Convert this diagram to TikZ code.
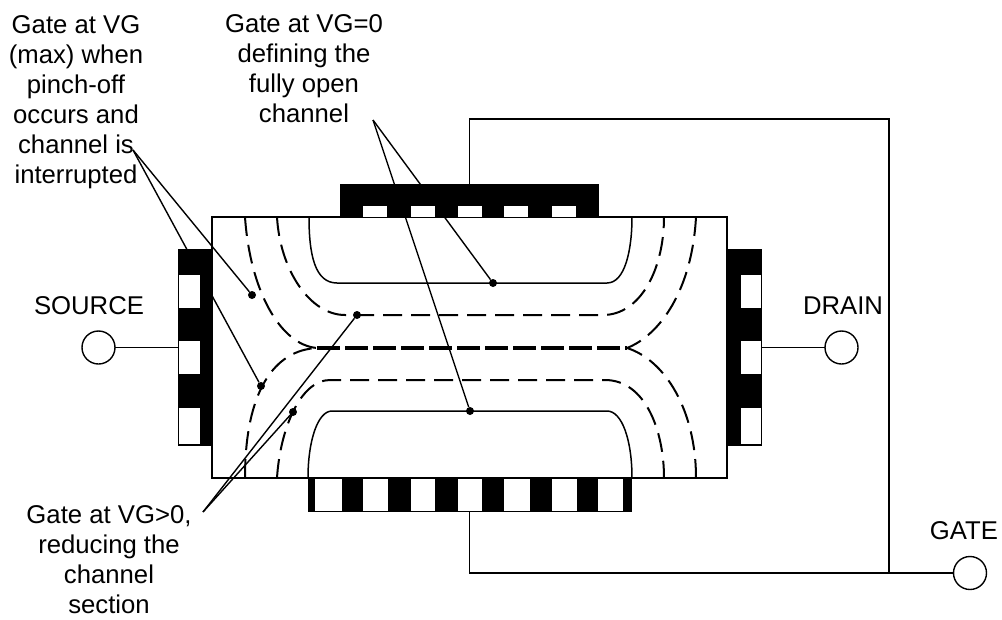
\documentclass[tikz,border=0pt]{standalone}
\usepackage{fontspec}
\setmainfont{Liberation Sans}
\usetikzlibrary{positioning}

\begin{document}
\begin{tikzpicture}[
      x=1pt, y=-1pt,
      box/.style={draw, line width=1.5pt, rectangle, inner sep=0pt, outer sep=0pt},
      pad/.style={draw, line width=1pt, rectangle, fill=black, inner sep=0pt, outer sep=0pt,
                  minimum width=34pt, minimum height=196pt},
      term/.style={draw, line width=1.4pt, circle, inner sep=0pt, outer sep=0pt, minimum size=33pt},
      dot/.style={circle, fill=black, inner sep=0pt, minimum size=8pt},
      wire/.style={line width=1.2pt},
      leader/.style={line width=1.4pt},
      edge/.style={line width=1.5pt},
      flux/.style={line width=2pt, dash pattern=on 19pt off 9pt},
      core/.style={line width=3.2pt, dash pattern=on 23pt off 5pt},
      lbl/.style={align=center, inner sep=0pt, font=\fontsize{25.7}{30}\selectfont}
    ]
      \useasboundingbox (0,0) rectangle (1002,619);
      \node[box, minimum width=515pt, minimum height=261pt] (body) at (469.5,347.5) {};

      \draw[edge] (309,217) .. controls (309,255) and (315,283) .. (337,283) -- (607,283)
                  .. controls (625,283) and (632,250) .. (632,217);
      \draw[edge] (308,478) .. controls (308,440) and (318,411) .. (332,411) -- (607,411)
                  .. controls (622,411) and (632,440) .. (632,478);
      \draw[flux] (277,217) .. controls (280,270) and (310,315) .. (345,315) -- (603,315)
                  .. controls (640,315) and (664,270) .. (664,217);
      \draw[flux] (277,478) .. controls (280,430) and (300,380) .. (330,380) -- (605,380)
                  .. controls (645,380) and (664,430) .. (664,478);
      \draw[flux] (245,217) .. controls (250,290) and (280,345) .. (317,348);
      \draw[flux] (696,217) .. controls (692,290) and (660,335) .. (627,348);
      \draw[flux] (245,478) .. controls (245,390) and (275,350) .. (317,348);
      \draw[flux] (696,478) .. controls (696,410) and (665,360) .. (627,348);
      \draw[core] (317,348) -- (627,348);

      \node[dot] (openup)  at (493,283) {};
      \node[dot] (opendn)  at (470,411) {};
      \node[dot] (pinchup) at (252,295) {};
      \node[dot] (pinchdn) at (261,386) {};
      \node[dot] (redup)   at (357,315) {};
      \node[dot] (reddn)   at (293,412) {};

      \coordinate (pinchtip) at (133,150);
      \coordinate (opentip)  at (373,120);
      \coordinate (redtip)   at (203,512);
      \draw[leader] (pinchtip) -- (pinchup);
      \draw[leader] (pinchtip) -- (pinchdn);
      \draw[leader] (opentip) -- (openup);
      \draw[leader] (opentip) -- (opendn);
      \draw[leader] (redtip) -- (redup);
      \draw[leader] (redtip) -- (reddn);

      \node[pad, left=0pt of body]  (srcpad) {};
      \node[pad, right=0pt of body] (drnpad) {};
      \node[box, fill=black, minimum width=257pt, minimum height=32pt, above=0pt of body] (topgate) {};
      \node[box, fill=white, line width=1pt, minimum width=323pt, minimum height=33pt, below=0pt of body] (botgate) {};

      \foreach \y/\h in {275/33, 341/33, 408/36} {
        \fill[white] (179,\y) rectangle ++(21,\h);
        \fill[white] (741,\y) rectangle ++(19.5,\h);
      }
      \foreach \x in {363,411,458,504,552}
        \fill[white] (\x,206) rectangle ++(24,11);
      \foreach \x/\w in {308/7, 342/21, 388/23, 435/23, 482/22, 530/22, 577/21, 623/8}
        \fill[black] (\x,478) rectangle ++(\w,33);

      \node[term, left=63pt of srcpad]  (srcterm) {};
      \node[term, right=64pt of drnpad] (drnterm) {};
      \node[term] (gateterm) at (970,573) {};
      \coordinate (corner) at (889,119);
      \coordinate (join) at (889,573);
      \draw[wire] (srcterm) -- (srcpad);
      \draw[wire] (drnpad) -- (drnterm);
      \draw[wire] (botgate.south) |- (gateterm.west);
      \draw[wire] (topgate.north) |- (corner) -- (join);

      \node[lbl] (pinchlbl) at (76,102) {Gate at VG\\(max) when\\pinch-off\\occurs and\\channel is\\interrupted};
      \node[lbl] (openlbl)  at (304,69) {Gate at VG=0\\defining the\\fully open\\channel};
      \node[lbl] (redlbl)   at (109,560) {Gate at VG>0,\\reducing the\\channel\\section};
      \node[lbl] (srclbl)   at (89,306) {SOURCE};
      \node[lbl] (drnlbl)   at (843,306) {DRAIN};
      \node[lbl] (gatelbl)  at (964,531) {GATE};
    \end{tikzpicture}
\end{document}
